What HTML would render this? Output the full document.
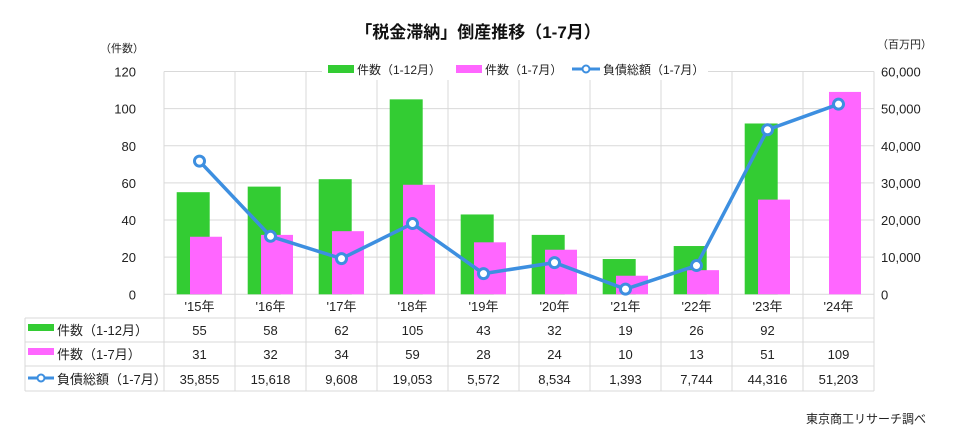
<!DOCTYPE html>
<html><head><meta charset="utf-8"><style>
body{margin:0;background:#fff;}
svg{display:block;font-family:"Liberation Sans","Noto Sans CJK JP",sans-serif;}
</style></head><body>
<svg id="c" width="956" height="444" viewBox="0 0 956 444"></svg>
<script>
const categories=["'15年","'16年","'17年","'18年","'19年","'20年","'21年","'22年","'23年","'24年"];
const countFull=[55,58,62,105,43,32,19,26,92,null];
const countJanJul=[31,32,34,59,28,24,10,13,51,109];
const debtJanJul=[35855,15618,9608,19053,5572,8534,1393,7744,44316,51203];
const leftTicks=[0,20,40,60,80,100,120];
const rightTicks=[0,10000,20000,30000,40000,50000,60000];
const NS="http://www.w3.org/2000/svg";
const svg=document.getElementById('c');
const L=164,R=874,T=71.5,B=294.3,cw=(R-L)/categories.length;
const yL=v=>B-v/120*(B-T);
const yR=v=>B-v/60000*(B-T);
const xc=i=>L+i*cw;
function el(tag,a,p){const e=document.createElementNS(NS,tag);for(const k in a)e.setAttribute(k,a[k]);(p||svg).appendChild(e);return e;}
function tx(s,x,y,a,p){const e=el('text',Object.assign({x:x,y:y,'font-size':13,fill:'#222'},a),p);e.textContent=s;return e;}
// grid
const grid=el('g',{});


leftTicks.forEach(v=>el('line',{x1:L,x2:R,y1:yL(v),y2:yL(v),stroke:'#d9d9d9'},grid));
for(let i=0;i<=categories.length;i++)el('line',{x1:xc(i),x2:xc(i),y1:T,y2:391,stroke:'#d9d9d9'},grid);
// table lines
[318,342,366,391].forEach(y=>el('line',{x1:25,x2:R,y1:y,y2:y,stroke:'#d9d9d9'},grid));
el('line',{x1:25,x2:25,y1:318,y2:391,stroke:'#d9d9d9'},grid);
// ticks
leftTicks.forEach(v=>{const t=tx(String(v),136,yL(v)+5,{'text-anchor':'end'});

});
rightTicks.forEach(v=>{const t=tx(v.toLocaleString('en-US'),881,yR(v)+5,{});

});
const lt=tx('（件数）',100,52,{'font-size':11});


const rt=tx('（百万円）',877,48,{'font-size':11});


// bars
categories.forEach((c,i)=>{
 if(countFull[i]!=null){const b=el('rect',{x:xc(i)+12.7,y:yL(countFull[i]),width:33,height:B-yL(countFull[i]),fill:'#33cc33'});
 
 }
 const p=el('rect',{x:xc(i)+26,y:yL(countJanJul[i]),width:32,height:B-yL(countJanJul[i]),fill:'#ff66ff'});
 
 
});
// line
const pts=debtJanJul.map((v,i)=>[xc(i)+cw/2,yR(v)]);
const ln=el('polyline',{points:pts.map(p=>p.join(',')).join(' '),fill:'none',stroke:'#3d8fe0','stroke-width':3.5});


pts.forEach(p=>{const m=el('circle',{cx:p[0],cy:p[1],r:5,fill:'#fff',stroke:'#3d8fe0','stroke-width':3});

});
// table
categories.forEach((c,i)=>{const x=xc(i)+cw/2;
 tx(c,x,311,{'text-anchor':'middle'});
 if(countFull[i]!=null)tx(String(countFull[i]),x,335,{'text-anchor':'middle'});
 tx(String(countJanJul[i]),x,359,{'text-anchor':'middle'});
 tx(debtJanJul[i].toLocaleString('en-US'),x,384,{'text-anchor':'middle'});
});
el('rect',{x:28,y:324,width:26,height:7,fill:'#33cc33'});
tx('件数（1-12月）',57,335,{});
el('rect',{x:28,y:348,width:26,height:7,fill:'#ff66ff'});
tx('件数（1-7月）',57,359,{});
el('line',{x1:28,x2:54,y1:378,y2:378,stroke:'#3d8fe0','stroke-width':3});
el('circle',{cx:41,cy:378,r:3.5,fill:'#fff',stroke:'#3d8fe0','stroke-width':2});
tx('負債総額（1-7月）',57,384,{});
// legend
const lg=el('g',{});


el('rect',{x:322,y:60,width:386,height:20,fill:'#fff'},lg);
el('rect',{x:328,y:65,width:26,height:8,fill:'#33cc33'},lg);
tx('件数（1-12月）',357,74,{'font-size':12},lg);
el('rect',{x:456,y:65,width:26,height:8,fill:'#ff66ff'},lg);
tx('件数（1-7月）',485,74,{'font-size':12},lg);
el('line',{x1:572,x2:600,y1:69,y2:69,stroke:'#3d8fe0','stroke-width':3},lg);
el('circle',{cx:586,cy:69,r:3.5,fill:'#fff',stroke:'#3d8fe0','stroke-width':2},lg);
tx('負債総額（1-7月）',603,74,{'font-size':12},lg);
const ti=tx('「税金滞納」倒産推移（1-7月）',478,38,{'text-anchor':'middle','font-size':17,'font-weight':'bold',fill:'#111'});


const src=tx('東京商工リサーチ調べ',926,423,{'text-anchor':'end','font-size':12});


</script>
</body></html>
